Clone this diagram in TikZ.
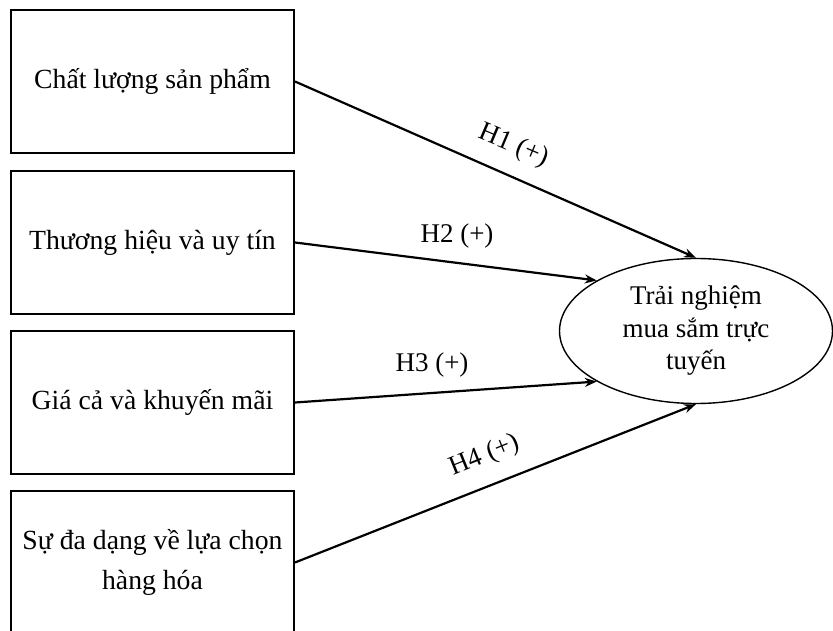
\documentclass[tikz,border=0pt]{standalone}
\usepackage{fontspec}
\setmainfont{Liberation Serif}
\usetikzlibrary{shapes.geometric,arrows.meta}
\begin{document}
\begin{tikzpicture}[x=1pt, y=-1pt,
  factor/.style={draw, line width=2pt, minimum width=283pt, minimum height=143pt, inner sep=0pt, align=center, font=\fontsize{27.7}{40}\selectfont},
  outcome/.style={draw, ellipse, line width=1.4pt, minimum width=273pt, minimum height=145pt, inner sep=0pt, align=center, font=\fontsize{27}{32.5}\selectfont},
  hyp/.style={font=\fontsize{27}{30}\selectfont, inner sep=0pt},
  link/.style={line width=2.2pt, -{Stealth[length=12pt, width=9pt]}}]
\useasboundingbox (0,0) rectangle (833,631);
\clip (0,0) rectangle (833,631);
\node[factor] (chatluong) at (152.5,81.5){Chất lượng sản phẩm};
\node[factor] (thuonghieu) at (152.5,242.5){Thương hiệu và uy tín};
\node[factor] (giaca) at (152.5,402.5){Giá cả và khuyến mãi};
\node[factor] (dadang) at (152.5,562.5){Sự đa dạng về lựa chọn\\hàng hóa};
\node[outcome] (trainghiem) at (696,331){Trải nghiệm\\mua sắm trực\\tuyến};
\draw[link] (chatluong.east) -- (trainghiem.north);
\draw[link] (thuonghieu.east) -- (trainghiem.153);
\draw[link] (giaca.east) -- (trainghiem.207);
\draw[link] (dadang.east) -- (trainghiem.south);
\node[hyp, rotate=-23] (h1) at (514,146){H1 (+)};
\node[hyp] (h2) at (457,236){H2 (+)};
\node[hyp] (h3) at (432,365){H3 (+)};
\node[hyp, rotate=22] (h4) at (485,456){H4 (+)};
\end{tikzpicture}
\end{document}
